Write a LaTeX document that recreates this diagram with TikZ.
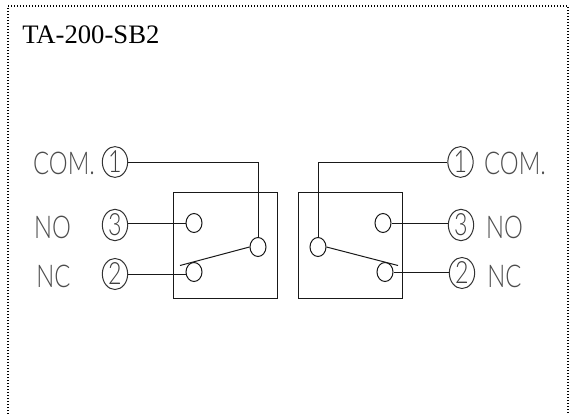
\documentclass[tikz,border=0pt]{standalone}
\usepackage{fontspec}
\setmainfont{Liberation Serif}
\newfontfamily\cad{Lato Light}
\newcommand{\cadtxt}[1]{\scalebox{0.76}[1]{#1}}
\usetikzlibrary{shapes.geometric}
\tikzset{
  x=0.75pt,y=-0.75pt,
  wire/.style={draw=black!90,line width=0.75pt},
  frameline/.style={draw=black,line width=1pt,dash pattern=on 1pt off 1.25pt},
  term/.style={ellipse,draw=black!80,line width=0.75pt,inner sep=0pt,minimum width=19pt,minimum height=22.5pt,font=\cad\fontsize{23}{23}\selectfont,text=black!75},
  pin/.style={ellipse,draw=black!90,line width=0.75pt,inner sep=0pt,minimum width=12pt,minimum height=14.25pt},
  lab/.style={inner sep=0pt,font=\cad\fontsize{23.5}{23.5}\selectfont,text=black!70},
  boxb/.style={rectangle,draw=black!90,line width=0.75pt,inner sep=0pt,minimum width=78pt,minimum height=79.5pt},
  title/.style={inner sep=0pt,anchor=base west,font=\fontsize{20}{20}\selectfont}
}
\begin{document}
\begin{tikzpicture}
\useasboundingbox (0,0) rectangle (569,414);
\coordinate (f1) at (8,414);
\coordinate (f2) at (8,6);
\coordinate (f3) at (568,6);
\coordinate (f4) at (568,414);
\draw[frameline] (f1) -- (f2) -- (f3) -- (f4);
\node[title] (ttl) at (22,43.5) {TA-200-SB2};
% left
\node[boxb] (bl) at (225,245) {};
\node[term] (l1) at (115,162) {\cadtxt{1}};
\node[term] (l3) at (115,225) {\cadtxt{3}};
\node[term] (l2) at (115,274) {\cadtxt{2}};
\node[pin] (lc) at (258,247) {};
\node[pin] (lno) at (194,223) {};
\node[pin] (lnc) at (194,272) {};
\coordinate (lt) at (180,265.5);
\draw[wire] (l1.east) -| (lc.north);
\draw[wire] (lno.west -| l3.east) -- (lno.west);
\draw[wire] (l2.east) -- (l2.east -| lnc.west);
\draw[wire] (lc.west) -- (lt);
\node[lab] (lcom) at (64,163) {\cadtxt{COM.}};
\node[lab] (lnolab) at (52.5,227.5) {\cadtxt{NO}};
\node[lab] (lnclab) at (53.5,276) {\cadtxt{NC}};
% right
\node[boxb] (br) at (350.5,245) {};
\node[term] (r1) at (460.5,162) {\cadtxt{1}};
\node[term] (r3) at (461,225) {\cadtxt{3}};
\node[term] (r2) at (462,273) {\cadtxt{2}};
\node[pin] (rc) at (318,247) {};
\node[pin] (rno) at (383,223) {};
\node[pin] (rnc) at (385,272) {};
\coordinate (rt) at (398,265.5);
\draw[wire] (r1.west) -| (rc.north);
\draw[wire] (rno.east -| r3.west) -- (rno.east);
\draw[wire] (rnc.east -| r2.west) -- (rnc.east);
\draw[wire] (rc.east) -- (rt);
\node[lab] (rcom) at (515,163) {\cadtxt{COM.}};
\node[lab] (rnolab) at (504.5,227.5) {\cadtxt{NO}};
\node[lab] (rnclab) at (504.5,276) {\cadtxt{NC}};
\end{tikzpicture}
\end{document}
